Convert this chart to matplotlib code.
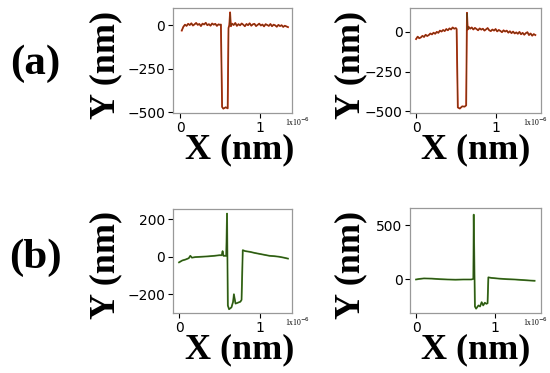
import matplotlib
matplotlib.use("Agg")
import matplotlib.pyplot as plt

# profile data, x in units of 1e-6 m, y in nm
tl_x = [0.02, 0.04, 0.06, 0.08, 0.10, 0.12, 0.14, 0.16, 0.18, 0.20, 0.22, 0.24, 0.26,
        0.28, 0.30, 0.32, 0.34, 0.36, 0.38, 0.40, 0.42, 0.44, 0.46, 0.48, 0.50,
        0.51, 0.525, 0.54, 0.57, 0.595, 0.605, 0.615, 0.625, 0.635,
        0.65, 0.67, 0.69, 0.71, 0.73, 0.75, 0.77, 0.79, 0.81, 0.83, 0.85, 0.87,
        0.89, 0.91, 0.93, 0.95, 0.97, 0.99, 1.01, 1.03, 1.05, 1.07, 1.09, 1.11,
        1.13, 1.15, 1.17, 1.19, 1.21, 1.23, 1.25, 1.27, 1.29, 1.31, 1.33, 1.35]
tl_y = [-30, -8, 4, -3, 9, 2, 12, -1, 6, 14, 3, 8, -4, 10, 5, 15, 1, 7, -2, 11, 4, 9, -3, 6, 3,
        5, -470, -480, -472, -478, -15, 0, 75, -5,
        10, 2, 14, -3, 7, 0, 11, 4, -5, 8, 1, 12, -2, 6, 9, -4, 3, 10, -1, 5,
        -6, 7, 2, -3, 8, -5, 4, 0, -8, 3, -4, 1, -9, -2, -6, -10]

tr_x = [0.0, 0.02, 0.04, 0.06, 0.08, 0.10, 0.12, 0.14, 0.16, 0.18, 0.20, 0.22, 0.24,
        0.26, 0.28, 0.30, 0.32, 0.34, 0.36, 0.38, 0.40, 0.42, 0.44, 0.46, 0.48, 0.50,
        0.51, 0.525, 0.55, 0.58, 0.61, 0.63, 0.64, 0.65,
        0.66, 0.68, 0.70, 0.72, 0.74, 0.76, 0.78, 0.80, 0.82, 0.84, 0.86, 0.88,
        0.90, 0.92, 0.94, 0.96, 0.98, 1.00, 1.02, 1.04, 1.06, 1.08, 1.10, 1.12,
        1.14, 1.16, 1.18, 1.20, 1.22, 1.24, 1.26, 1.28, 1.30, 1.32, 1.34, 1.36,
        1.38, 1.40, 1.42, 1.44, 1.46, 1.48, 1.50]
tr_y = [-45, -30, -40, -35, -25, -32, -18, -26, -20, -10, -16, -5, -12, 0, -6, 8, 2, 12,
        5, 18, 10, 22, 15, 28, 20, 24,
        18, -475, -482, -468, -470, -462, 120, 15,
        32, 20, 28, 15, 25, 18, 10, 22, 14, 20, 8, 16, 24, 10, 5, 15, 8, 18, 3, 12,
        6, -2, 10, 2, 8, -5, 4, -8, 2, -10, -3, -12, 0, -15, -6, -18, -8, -2, -20,
        -10, -24, -14, -20]

bl_x = [0.0, 0.04, 0.08, 0.12, 0.14, 0.16, 0.20, 0.28, 0.36, 0.44, 0.50, 0.53, 0.54, 0.55,
        0.585, 0.595, 0.605, 0.62, 0.65, 0.67, 0.68, 0.70, 0.73, 0.76, 0.775,
        0.79, 0.82, 0.88, 0.94, 1.00, 1.06, 1.12, 1.18, 1.24, 1.30, 1.35]
bl_y = [-30, -20, -15, -8, 5, -5, -2, 0, 2, 5, 8, 8, 30, 5,
        5, 230, -260, -280, -270, -240, -200, -250, -245, -240, -230,
        35, 30, 26, 20, 15, 10, 5, 3, 0, -5, -10]

br_x = [0.0, 0.04, 0.10, 0.20, 0.30, 0.40, 0.50, 0.60, 0.70, 0.725, 0.73,
        0.745, 0.76, 0.79, 0.81, 0.83, 0.85, 0.87, 0.89, 0.905,
        0.915, 0.95, 1.05, 1.15, 1.25, 1.35, 1.45, 1.50]
br_y = [0, 5, 10, 8, 3, 0, -2, 0, 0, 5, 600,
        -250, -270, -240, -250, -210, -240, -215, -225, -220,
        20, 15, 8, 3, 0, -5, -10, -12]

panels = [
    dict(x=tl_x, y=tl_y, pos=[0.3145, 0.697, 0.2164, 0.2815], xlim=(-0.09, 1.4),
         ylim=(-505, 100), yticks=[0, -250, -500], kind="a", sci=0.94),
    dict(x=tr_x, y=tr_y, pos=[0.7455, 0.697, 0.238, 0.2815], xlim=(-0.076, 1.57),
         ylim=(-510, 150), yticks=[0, -250, -500], kind="a", sci=0.86),
    dict(x=bl_x, y=bl_y, pos=[0.3145, 0.1609, 0.2164, 0.279], xlim=(-0.075, 1.4),
         ylim=(-300, 255), yticks=[200, 0, -200], kind="b", sci=0.94),
    dict(x=br_x, y=br_y, pos=[0.7455, 0.1609, 0.238, 0.281], xlim=(-0.076, 1.58),
         ylim=(-310, 660), yticks=[500, 0], kind="b", sci=0.86),
]

serif = ["Liberation Serif", "DejaVu Serif"]

fig = plt.figure(figsize=(5.5, 3.73), dpi=100)

for p in panels:
    ax = fig.add_axes(p["pos"])
    if p["kind"] == "a":
        ax.plot(p["x"], p["y"], color="#d42a10", lw=1.3)
        ax.plot(p["x"], p["y"], color="#6e3a12", lw=0.7)
    else:
        ax.plot(p["x"], p["y"], color="#4d8a2a", lw=1.3)
        ax.plot(p["x"], p["y"], color="#2a4d14", lw=0.7)
    ax.set_xlim(p["xlim"])
    ax.set_ylim(p["ylim"])
    ax.set_xticks([0, 1])
    ax.set_xticklabels(["0", "1"])
    ax.set_yticks(p["yticks"])
    ax.tick_params(labelsize=10, length=3.5, width=0.8, pad=2)
    for s in ax.spines.values():
        s.set_color("#999999")
        s.set_linewidth(0.9)
    ax.text(p["sci"], -0.085, "1x10$^{-6}$", transform=ax.transAxes, ha="left",
            va="center", fontsize=5.5, family=serif)

# axis labels
for cx, cy in [(0.435, 0.598), (0.865, 0.598), (0.435, 0.062), (0.865, 0.062)]:
    fig.text(cx, cy, "X (nm)", ha="center", va="center", fontsize=26,
             fontweight="bold", family=serif)
for cx, cy in [(0.192, 0.825), (0.638, 0.825), (0.192, 0.29), (0.638, 0.29)]:
    fig.text(cx, cy, "Y (nm)", ha="center", va="center", fontsize=26,
             fontweight="bold", family=serif, rotation=90)

fig.text(0.064, 0.83, "(a)", ha="center", va="center", fontsize=31,
         fontweight="bold", family=serif)
fig.text(0.064, 0.31, "(b)", ha="center", va="center", fontsize=31,
         fontweight="bold", family=serif)

fig.savefig("out.png", dpi=100)
